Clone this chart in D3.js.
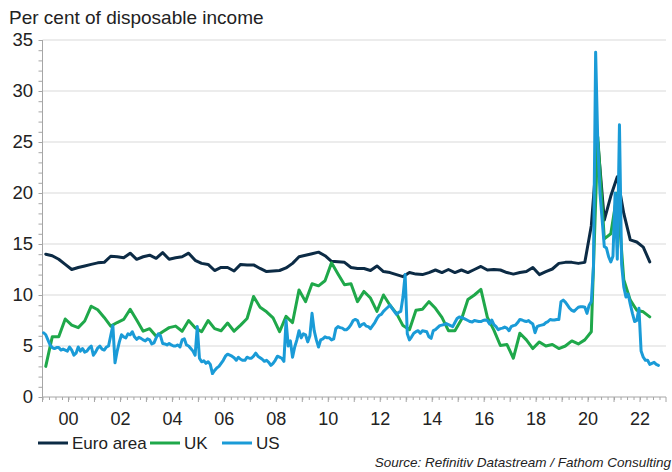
<!DOCTYPE html>
<html><head><meta charset="utf-8">
<script src="https://cdn.jsdelivr.net/npm/d3@7"></script>
<style>body{margin:0;background:#fff}svg{display:block}text{font-family:"Liberation Sans",Arial,sans-serif}</style>
</head><body><svg id="c" width="672" height="472"></svg>
<script>
// Quarterly, 1999Q1 - 2022Q2
const euroArea = [
14.0,13.85,13.5,13.0,12.5,12.7,12.85,13.0,13.15,13.2,
13.8,13.75,13.65,14.1,13.5,13.75,13.9,13.6,14.15,13.5,
13.65,13.75,14.1,13.4,13.1,13.0,12.4,12.7,12.7,12.35,
13.0,12.95,12.95,12.6,12.3,12.35,12.4,12.65,13.1,13.75,
13.9,14.05,14.2,13.85,13.3,13.25,13.2,12.7,12.6,12.6,
12.4,12.85,12.3,12.2,12.0,11.8,12.2,12.05,12.0,12.2,
12.45,12.2,12.5,12.2,12.45,12.2,12.5,12.8,12.45,12.5,
12.45,12.2,12.05,12.2,12.3,12.7,12.0,12.3,12.55,13.1,
13.2,13.2,13.1,13.2,16.8,25.0,17.35,19.7,21.6,18.0,
15.4,15.2,14.7,13.25];
const uk = [
3.0,5.9,5.9,7.65,7.05,6.8,7.45,8.9,8.55,7.8,
6.95,7.3,7.6,8.6,7.55,6.45,6.7,5.95,6.4,6.8,
6.95,6.45,7.5,6.8,6.4,7.5,6.7,6.5,7.25,6.45,
7.05,7.7,9.85,8.8,8.35,7.75,6.4,7.9,7.3,10.5,
9.35,11.1,10.9,11.4,13.15,12.05,11.0,11.1,9.35,10.35,
9.7,8.4,10.0,9.0,8.2,7.0,6.6,8.5,8.6,9.35,
8.7,7.8,6.5,6.5,7.6,9.55,10.0,10.55,7.8,6.55,
5.05,5.15,3.8,6.25,5.6,4.75,5.4,5.0,5.15,4.75,
5.0,5.5,5.2,5.6,6.4,25.5,15.5,16.0,20.0,11.5,
9.5,8.5,8.35,7.85];
// Monthly, Jan 1999 - Sep 2022
const us = [
6.3,6.1,5.6,5.1,4.85,4.75,4.85,4.85,4.6,4.7,4.6,4.5,
4.9,4.6,4.1,4.3,4.9,4.5,4.75,4.4,4.5,4.8,5.0,4.1,
4.4,4.8,5.0,4.7,4.6,4.9,5.0,6.0,7.0,3.35,4.5,5.4,
6.1,5.9,5.8,6.2,6.1,6.4,5.9,5.65,5.85,5.75,5.6,5.5,
5.7,5.6,5.2,5.3,5.8,6.2,6.0,5.25,5.2,5.1,5.25,5.1,
5.0,5.0,5.1,4.9,5.6,5.7,5.1,5.0,4.75,4.5,4.1,6.9,
3.8,3.45,3.55,3.3,3.45,3.2,2.3,2.6,2.85,3.0,3.3,3.6,
4.0,4.2,4.1,4.0,3.85,3.6,3.9,3.7,3.6,3.6,3.9,3.8,
3.8,4.0,4.3,4.0,3.85,3.7,3.5,3.6,3.4,3.1,3.3,3.6,
4.0,3.9,3.8,3.5,7.5,5.0,5.5,3.9,4.9,5.6,6.5,5.8,
6.2,6.1,5.4,6.0,8.2,6.5,5.6,4.9,5.6,5.7,5.9,5.8,
5.8,5.6,5.7,6.7,6.9,6.8,6.75,6.6,6.6,6.8,7.1,7.5,
7.6,7.5,6.9,7.1,7.2,6.95,6.9,6.7,7.0,7.3,7.7,8.0,
8.1,8.4,8.6,8.8,9.0,8.7,8.4,8.1,8.3,8.4,9.8,12.0,
6.2,5.6,5.9,6.25,6.4,6.5,6.25,6.5,6.45,6.4,5.9,5.75,
6.5,6.6,6.8,7.0,7.05,7.1,7.2,7.1,7.0,6.9,7.3,7.7,
7.85,7.8,7.7,7.6,7.5,7.4,7.35,7.5,7.45,7.4,7.4,7.5,
7.55,7.5,7.15,7.55,7.1,6.9,6.6,6.7,6.75,6.85,6.75,6.5,
6.9,7.0,7.05,7.3,7.6,7.55,7.45,7.4,7.5,7.3,7.15,6.3,
6.9,7.0,7.05,7.1,7.3,7.4,7.6,7.55,7.55,7.6,7.6,9.35,
9.5,9.3,9.0,8.7,8.5,8.4,8.6,8.8,8.85,8.85,8.8,8.2,
9.0,9.35,12.8,33.8,24.9,20.0,17.4,14.75,14.6,13.75,13.25,13.8,
20.0,13.5,26.7,13.0,10.8,9.8,10.1,9.1,8.2,7.4,7.5,8.7,
4.5,3.9,3.6,3.6,3.2,3.3,3.4,3.2,3.1];
const startYear = 1999;
const xTickYears = [2000,2002,2004,2006,2008,2010,2012,2014,2016,2018,2020,2022];
const xTickLabels = ["00","02","04","06","08","10","12","14","16","18","20","22"];
const yTickValues = [0,5,10,15,20,25,30,35];
const seriesNames = ["Euro area","UK","US"];
const seriesColors = ["#0c2b45","#1fa84a","#1a9bd7"];
const titleText = "Per cent of disposable income";
const sourceText = "Source: Refinitiv Datastream / Fathom Consulting";

const svg = d3.select("#c");
const x = d3.scaleLinear().domain([1999, 2023]).range([42.5, 666]);
const y = d3.scaleLinear().domain([0, 35]).range([397, 40]);

// gridlines
svg.append("g").selectAll("line").data(yTickValues.filter(v => v > 0)).join("line")
  .attr("x1", x(1999)).attr("x2", x(2023)).attr("y1", d => y(d)).attr("y2", d => y(d))
  .attr("stroke", "#d9d9d9").attr("stroke-width", 1);

// y axis
const yAxis = d3.axisLeft(y).tickValues(d3.range(0, 36, 1)).tickSize(4).tickFormat("");
const gy = svg.append("g").attr("transform", `translate(${x(1999)},0)`).call(yAxis);
gy.selectAll("path,line").attr("stroke", "#a6a6a6");
gy.select(".domain").attr("d", `M0,${y(35)}V${y(0)}`);
svg.append("g").selectAll("text").data(yTickValues).join("text")
  .attr("x", 33).attr("y", d => y(d)).attr("dy", "0.35em").attr("text-anchor", "end")
  .attr("font-size", 18.5).attr("fill", "#222").text(d => d);

// x axis
const quarterTicks = d3.range(0, 96).map(i => 1999 + i / 4);
const xAxis = d3.axisBottom(x).tickValues(quarterTicks).tickSize(3).tickFormat("");
const gx = svg.append("g").attr("transform", `translate(0,${y(0)})`).call(xAxis);
gx.selectAll("path,line").attr("stroke", "#a6a6a6");
gx.select(".domain").attr("d", `M${x(1999)},0H${x(2023)}`);
svg.append("g").selectAll("line").data(d3.range(1999, 2024)).join("line")
  .attr("x1", d => x(d)).attr("x2", d => x(d)).attr("y1", y(0)).attr("y2", y(0) + 5)
  .attr("stroke", "#a6a6a6");
svg.append("g").selectAll("text").data(xTickYears).join("text")
  .attr("x", d => x(d)).attr("y", 425).attr("text-anchor", "middle")
  .attr("font-size", 18).attr("fill", "#222").text((d, i) => xTickLabels[i]);

// series
const qPts = arr => arr.map((v, i) => [startYear + i / 4 + 0.125, v]);
const mPts = arr => arr.map((v, i) => [startYear + i / 12 + 1 / 24, v]);
const seriesData = [qPts(euroArea), qPts(uk), mPts(us)];
const line = d3.line().x(d => x(d[0])).y(d => y(d[1]));
svg.append("g").selectAll("path").data(seriesData).join("path")
  .attr("d", line).attr("fill", "none")
  .attr("stroke", (d, i) => seriesColors[i]).attr("stroke-width", 3)
  .attr("stroke-linejoin", "round").attr("stroke-linecap", "round");

// title
svg.append("text").attr("x", 9).attr("y", 24).attr("font-size", 19).attr("fill", "#222").text(titleText);

// legend
const legendX = [38, 150, 222];
const lg = svg.append("g").selectAll("g").data(seriesNames).join("g")
  .attr("transform", (d, i) => `translate(${legendX[i]},443)`);
lg.append("line").attr("x1", 0).attr("x2", 30).attr("stroke", (d, i) => seriesColors[i]).attr("stroke-width", 3);
lg.append("text").attr("x", 34).attr("dy", "0.35em").attr("font-size", 17).attr("fill", "#222").text(d => d);

// source
svg.append("text").attr("x", 671).attr("y", 467).attr("text-anchor", "end")
  .attr("font-size", 13.5).attr("font-style", "italic").attr("fill", "#222").text(sourceText);
</script></body></html>
